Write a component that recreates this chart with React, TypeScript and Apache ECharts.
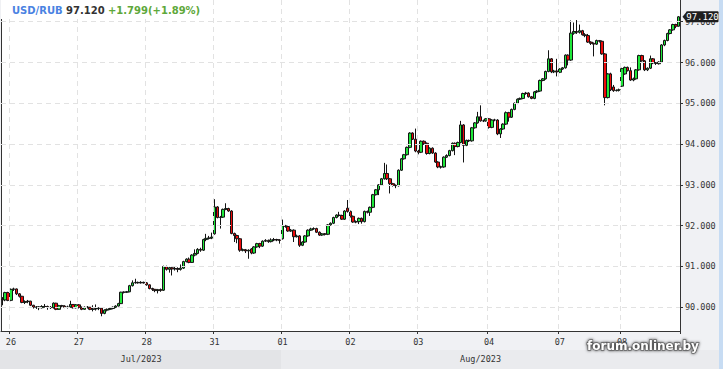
import React, { useEffect, useRef } from "react";
import * as echarts from "echarts";

// ---- data ----
const symbolName = "USD/RUB";
const changeText = "+1.799(+1.89%)";
const dayLabels = ["25", "26", "27", "28", "31", "01", "02", "03", "04", "07", "08"];
const monthLabels = ["Jul/2023", "Aug/2023"];
const monthFirstDay = [0, 5]; // index into dayLabels where each month begins
const yTicks = [90, 91, 92, 93, 94, 95, 96, 97];

// hourly candles, [open, close, low, high]
const d25 = [
  [90.2, 90.18, 90.05, 90.25],
  [90.18, 90.36, 90.15, 90.38],
  [90.36, 90.17, 90.15, 90.38],
];
const d26 = [
  [90.17, 90.44, 90.15, 90.46], [90.44, 90.45, 90.4, 90.48], [90.45, 90.33, 90.3, 90.46],
  [90.33, 90.27, 90.24, 90.35], [90.27, 90.12, 90.1, 90.28], [90.12, 90.14, 90.08, 90.17],
  [90.14, 90.15, 90.1, 90.18], [90.15, 90.05, 90.03, 90.16], [90.05, 90.0, 89.97, 90.06],
  [90.0, 90.01, 89.96, 90.03], [90.01, 89.99, 89.93, 90.03], [89.99, 90.02, 89.97, 90.05],
  [90.02, 90.02, 89.99, 90.08], [90.02, 90.0, 89.94, 90.04], [90.0, 89.99, 89.96, 90.03],
  [89.99, 90.1, 89.97, 90.12], [90.1, 89.95, 89.93, 90.11], [89.95, 90.04, 89.94, 90.06],
  [90.04, 90.03, 90.0, 90.06], [90.03, 90.0, 89.98, 90.05], [90.0, 90.01, 89.97, 90.04],
  [90.01, 90.07, 89.99, 90.16], [90.07, 89.99, 89.97, 90.08], [89.99, 90.06, 89.97, 90.08],
];
const d27 = [
  [90.06, 90.0, 89.97, 90.08], [90.0, 89.95, 89.93, 90.02], [89.95, 90.0, 89.94, 90.02],
  [90.0, 90.0, 89.97, 90.03], [90.0, 89.95, 89.93, 90.01], [89.95, 89.96, 89.9, 90.05],
  [89.96, 89.97, 89.92, 90.07], [89.97, 89.98, 89.93, 90.0], [89.98, 89.85, 89.78, 89.99],
  [89.85, 89.93, 89.83, 89.95], [89.93, 89.95, 89.9, 89.97], [89.95, 89.97, 89.93, 89.99],
  [89.97, 90.0, 89.95, 90.02], [90.0, 90.03, 89.98, 90.05], [90.03, 90.09, 90.02, 90.11],
  [90.09, 90.37, 90.08, 90.38], [90.37, 90.37, 90.34, 90.39], [90.37, 90.38, 90.35, 90.4],
  [90.38, 90.53, 90.37, 90.55], [90.53, 90.6, 90.51, 90.66], [90.6, 90.61, 90.58, 90.7],
  [90.61, 90.6, 90.58, 90.63], [90.6, 90.61, 90.58, 90.64], [90.61, 90.6, 90.58, 90.63],
];
const d28 = [
  [90.6, 90.55, 90.53, 90.62], [90.55, 90.46, 90.44, 90.56], [90.46, 90.44, 90.4, 90.48],
  [90.44, 90.41, 90.37, 90.45], [90.41, 90.43, 90.34, 90.45], [90.43, 90.42, 90.38, 90.46],
  [90.42, 91.0, 90.4, 91.02], [91.0, 90.93, 90.9, 91.02], [90.93, 90.97, 90.85, 90.99],
  [90.97, 90.94, 90.78, 90.99], [90.94, 90.95, 90.9, 91.0], [90.95, 90.93, 90.86, 90.98],
  [90.93, 90.96, 90.9, 91.05], [90.96, 91.12, 90.94, 91.14], [91.12, 91.18, 91.1, 91.2],
  [91.18, 91.1, 91.08, 91.22], [91.1, 91.28, 91.09, 91.3], [91.28, 91.32, 91.25, 91.42],
  [91.32, 91.42, 91.3, 91.45], [91.42, 91.4, 91.36, 91.46], [91.4, 91.66, 91.38, 91.68],
  [91.66, 91.69, 91.62, 91.8], [91.69, 91.7, 91.66, 91.75], [91.7, 91.72, 91.67, 91.83],
];
const d31 = [
  [91.8, 92.46, 91.78, 92.65], [92.46, 92.2, 92.18, 92.48], [92.2, 92.21, 91.93, 92.24],
  [92.21, 92.4, 92.19, 92.42], [92.4, 92.42, 92.38, 92.55], [92.42, 92.36, 92.34, 92.44],
  [92.36, 91.81, 91.79, 92.38], [91.81, 91.76, 91.6, 91.83], [91.76, 91.68, 91.57, 91.78],
  [91.68, 91.4, 91.36, 91.7], [91.4, 91.41, 91.37, 91.44], [91.41, 91.38, 91.33, 91.43],
  [91.38, 91.4, 91.19, 91.42], [91.43, 91.33, 91.3, 91.45], [91.33, 91.48, 91.31, 91.5],
  [91.48, 91.56, 91.46, 91.58], [91.56, 91.5, 91.45, 91.58], [91.5, 91.62, 91.48, 91.64],
  [91.62, 91.64, 91.6, 91.67], [91.64, 91.61, 91.58, 91.66], [91.61, 91.65, 91.59, 91.69],
  [91.65, 91.66, 91.62, 91.7], [91.66, 91.65, 91.62, 91.68], [91.65, 91.64, 91.56, 91.67],
];
const d01 = [
  [91.68, 92.0, 91.66, 92.15], [92.0, 91.98, 91.95, 92.02], [91.98, 91.87, 91.85, 92.0],
  [91.87, 91.89, 91.85, 91.92], [91.89, 91.73, 91.6, 91.91], [91.73, 91.75, 91.71, 91.78],
  [91.75, 91.52, 91.48, 91.77], [91.52, 91.6, 91.5, 91.62], [91.6, 91.75, 91.58, 91.77],
  [91.75, 91.89, 91.73, 91.91], [91.89, 91.92, 91.87, 91.95], [91.92, 91.93, 91.9, 91.96],
  [91.93, 91.84, 91.82, 91.95], [91.84, 91.77, 91.75, 91.86], [91.77, 91.8, 91.75, 91.82],
  [91.8, 91.79, 91.76, 91.82], [91.79, 92.02, 91.77, 92.04], [92.02, 92.06, 92.0, 92.08],
  [92.06, 92.2, 92.04, 92.22], [92.2, 92.26, 92.18, 92.28], [92.26, 92.25, 92.22, 92.34],
  [92.25, 92.16, 92.14, 92.27], [92.16, 92.36, 92.14, 92.38], [92.43, 92.35, 92.32, 92.63],
];
const d02 = [
  [92.35, 92.23, 92.2, 92.37], [92.23, 92.09, 92.07, 92.25], [92.09, 92.1, 92.06, 92.13],
  [92.1, 92.18, 92.04, 92.2], [92.18, 92.1, 92.05, 92.2], [92.1, 92.35, 92.08, 92.37],
  [92.35, 92.33, 92.3, 92.37], [92.33, 92.45, 92.24, 92.47], [92.45, 92.76, 92.43, 92.78],
  [92.76, 92.88, 92.74, 92.9], [92.88, 93.0, 92.75, 93.02], [93.0, 93.15, 92.98, 93.17],
  [93.15, 93.28, 93.13, 93.54], [93.28, 93.15, 93.12, 93.5], [93.15, 93.03, 92.79, 93.17],
  [93.03, 92.99, 92.96, 93.05], [92.99, 92.98, 92.92, 93.01], [92.98, 93.36, 92.96, 93.38],
  [93.36, 93.64, 93.34, 93.66], [93.64, 93.74, 93.62, 93.76], [93.74, 93.92, 93.72, 93.94],
  [93.92, 94.27, 93.9, 94.29], [94.27, 94.12, 94.1, 94.29], [94.12, 93.83, 93.8, 94.38],
];
const d03 = [
  [93.83, 93.8, 93.75, 93.86], [93.8, 94.07, 93.78, 94.09], [94.07, 94.02, 93.98, 94.09],
  [94.02, 93.77, 93.74, 94.04], [93.77, 93.9, 93.75, 93.92], [93.9, 93.78, 93.76, 93.92],
  [93.78, 93.56, 93.54, 93.8], [93.56, 93.44, 93.41, 93.58], [93.44, 93.44, 93.4, 93.47],
  [93.44, 93.68, 93.42, 93.7], [93.68, 93.72, 93.66, 93.75], [93.72, 93.84, 93.7, 93.86],
  [93.84, 94.02, 93.82, 94.04], [94.02, 93.94, 93.73, 94.04], [93.94, 94.04, 93.92, 94.06],
  [94.04, 94.47, 94.02, 94.57], [94.47, 93.97, 93.55, 94.49], [93.97, 94.09, 93.95, 94.11],
  [94.09, 94.08, 94.05, 94.11], [94.08, 94.4, 94.06, 94.42], [94.4, 94.52, 94.38, 94.54],
  [94.52, 94.67, 94.5, 94.79], [94.67, 94.57, 94.55, 94.95], [94.57, 94.57, 94.54, 94.6],
  [94.57, 94.62, 94.55, 94.64],
];
const d04 = [
  [94.62, 94.41, 94.38, 94.64], [94.41, 94.59, 94.39, 94.61], [94.59, 94.59, 94.56, 94.62],
  [94.59, 94.25, 94.22, 94.61], [94.25, 94.37, 94.15, 94.39], [94.37, 94.49, 94.35, 94.51],
  [94.49, 94.77, 94.47, 94.8], [94.77, 94.66, 94.55, 94.79], [94.66, 94.85, 94.64, 94.87],
  [94.85, 95.0, 94.83, 95.02], [95.0, 95.1, 94.98, 95.12], [95.1, 95.12, 95.08, 95.14],
  [95.12, 95.24, 95.1, 95.26], [95.24, 95.25, 95.21, 95.28], [95.25, 95.16, 95.14, 95.27],
  [95.16, 95.12, 95.1, 95.18], [95.12, 95.28, 95.1, 95.3], [95.28, 95.3, 95.25, 95.32],
  [95.3, 95.56, 95.28, 95.58], [95.56, 95.6, 95.54, 95.62], [95.6, 95.78, 95.58, 95.8],
  [95.78, 96.09, 95.76, 96.3], [96.09, 95.77, 95.74, 96.11], [95.77, 95.79, 95.74, 95.82],
  [95.79, 95.77, 95.66, 96.09],
];
const d07 = [
  [95.76, 95.84, 95.74, 95.86], [95.84, 95.87, 95.82, 95.89], [95.87, 96.18, 95.85, 96.2],
  [96.18, 96.06, 95.93, 96.2], [96.06, 96.72, 96.04, 97.03], [96.72, 96.76, 96.68, 96.98],
  [96.76, 96.74, 96.7, 97.04], [96.74, 96.78, 96.71, 96.93], [96.78, 96.68, 96.66, 96.8],
  [96.68, 96.66, 96.62, 96.72], [96.66, 96.5, 96.48, 96.7], [96.5, 96.47, 96.43, 96.52],
  [96.47, 96.45, 96.15, 96.49], [96.45, 96.54, 96.43, 96.56], [96.54, 96.52, 96.49, 96.55],
  [96.52, 96.21, 96.19, 96.54], [96.21, 95.14, 94.95, 96.23], [95.14, 95.72, 95.12, 95.74],
  [95.72, 95.33, 95.3, 95.75], [95.4, 95.31, 95.28, 95.45], [95.31, 95.32, 95.29, 95.34],
  [95.32, 95.33, 95.29, 95.36],
];
const d08 = [
  [95.42, 95.85, 95.4, 95.87], [95.72, 95.88, 95.7, 95.9], [95.88, 95.8, 95.78, 95.9],
  [95.8, 95.57, 95.55, 95.88], [95.57, 95.6, 95.54, 95.63], [95.6, 95.82, 95.58, 95.84],
  [95.82, 96.17, 95.8, 96.19], [96.17, 96.04, 96.02, 96.19], [96.04, 95.82, 95.79, 96.06],
  [95.82, 95.86, 95.79, 95.88], [95.86, 96.09, 95.84, 96.17], [96.09, 95.99, 95.96, 96.11],
  [95.99, 95.98, 95.94, 96.01], [95.97, 96.01, 95.95, 96.03], [96.01, 96.43, 96.0, 96.45],
  [96.43, 96.54, 96.4, 96.56], [96.54, 96.71, 96.52, 96.73], [96.71, 96.8, 96.69, 96.82],
  [96.8, 96.93, 96.78, 96.95], [96.93, 96.89, 96.84, 96.95], [96.89, 97.12, 96.88, 97.14],
];

const dayData = [d25, d26, d27, d28, d31, d01, d02, d03, d04, d07, d08];

// ---- derived structures ----
const candles: number[][] = [];
const categories: string[] = [];
const dayStartLabel = new Map<number, string>();
const dayStartIdx: number[] = [];
dayData.forEach((d, k) => {
  dayStartIdx.push(candles.length);
  if (k > 0) dayStartLabel.set(candles.length, dayLabels[k]);
  d.forEach((c, h) => {
    candles.push(c);
    categories.push(dayLabels[k] + ":" + h);
  });
});
const total = candles.length;
const monthRanges = monthFirstDay.map((fd, m) => {
  const s = m === 0 ? 0 : dayStartIdx[fd];
  const e = m + 1 < monthFirstDay.length ? dayStartIdx[monthFirstDay[m + 1]] : total;
  return [s, e];
});
const monthLabelIdx = new Map<number, string>();
monthRanges.forEach(([s, e], m) => monthLabelIdx.set(Math.floor((s + e) / 2), monthLabels[m]));
const lastClose = candles[total - 1][1];

const MONO = "'DejaVu Sans Mono', monospace";
const gridColor = "#e2e2e2";

export default function App() {
  const ref = useRef<HTMLDivElement>(null);
  useEffect(() => {
    const el = ref.current!;
    const chart = echarts.init(el, null, { renderer: "svg" });
    chart.setOption({
      animation: false,
      backgroundColor: "#f0f1f4",
      grid: { left: 1, right: 43, top: 0, bottom: 38, show: true, backgroundColor: "#ffffff", borderWidth: 0 },
      xAxis: [
        {
          type: "category",
          data: categories,
          boundaryGap: true,
          z: 10,
          axisLine: { show: true, lineStyle: { color: "#333", width: 1 } },
          axisTick: { show: true, length: 3, interval: (i: number) => dayStartLabel.has(i), lineStyle: { color: "#333" } },
          axisLabel: {
            interval: (i: number) => dayStartLabel.has(i),
            formatter: (_v: string, i: number) => dayStartLabel.get(i) || "",
            color: "#333",
            fontFamily: MONO,
            fontSize: 8.5,
            margin: 6,
          },
          splitLine: { show: true, interval: (i: number) => dayStartLabel.has(i), lineStyle: { color: gridColor, type: [5, 4] } },
        },
        {
          type: "category",
          data: categories,
          boundaryGap: true,
          position: "bottom",
          offset: 18,
          z: 10,
          axisLine: { show: false },
          axisTick: { show: false },
          splitLine: { show: false },
          axisLabel: {
            interval: (i: number) => monthLabelIdx.has(i),
            formatter: (_v: string, i: number) => monthLabelIdx.get(i) || "",
            color: "#333",
            fontFamily: MONO,
            fontSize: 8.5,
            margin: 5,
          },
        },
      ],
      yAxis: [
        {
          type: "value",
          position: "right",
          min: 89.419,
          max: 97.532,
          scale: true,
          z: 10,
          axisLine: { show: true, lineStyle: { color: "#333", width: 1 } },
          axisTick: { show: true, length: 3, customValues: yTicks, lineStyle: { color: "#333" } },
          axisLabel: {
            customValues: yTicks,
            formatter: (v: number) => v.toFixed(3),
            color: "#333",
            fontFamily: MONO,
            fontSize: 8.5,
            margin: 5,
          },
          splitLine: { show: true, lineStyle: { color: gridColor, type: [5, 4] } },
        },
        {
          type: "value",
          position: "left",
          min: 89.419,
          max: 97.532,
          axisLine: { show: true, onZero: false, lineStyle: { color: "#333", width: 1 } },
          axisTick: { show: false },
          axisLabel: { show: false },
          splitLine: { show: false },
        },
      ],
      series: [
        {
          type: "candlestick",
          xAxisIndex: 0,
          yAxisIndex: 0,
          data: candles,
          barWidth: 3,
          itemStyle: {
            color: "#1ee83a",
            color0: "#ee0a0a",
            borderColor: "#141414",
            borderColor0: "#141414",
            borderColorDoji: "#141414",
            borderWidth: 1,
          },
        },
      ],
    });

    const cx = (i: number) => chart.convertToPixel({ xAxisIndex: 0 }, i) as number;
    const w = cx(1) - cx(0);
    const augX = cx(monthRanges[1][0]) - w / 2;
    const yLast = chart.convertToPixel({ yAxisIndex: 0 }, lastClose) as number;
    const plotRight = cx(total - 1) + w / 2;

    chart.setOption({
      graphic: [
        { type: "rect", z: 1, shape: { x: 0, y: 350, width: augX, height: 19 }, style: { fill: "#e3e4e7" } },
        { type: "rect", z: 1, shape: { x: augX, y: 350, width: 719 - augX, height: 19 }, style: { fill: "#eaebee" } },
        { type: "rect", z: 1, shape: { x: 719, y: 0, width: 4, height: 369 }, style: { fill: "#c7dcf3" } },
        { type: "rect", z: 30, shape: { x: 1, y: 0, width: 200, height: 19 }, style: { fill: "#ffffff" } },
        {
          type: "text",
          z: 31,
          x: 12,
          y: 10,
          style: {
            text: `{a|${symbolName}} {b|${lastClose.toFixed(3)}} {c|${changeText}}`,
            verticalAlign: "middle",
            rich: {
              a: { fill: "#4a82e2", fontFamily: "'DejaVu Sans'", fontWeight: "bold", fontSize: 10 },
              b: { fill: "#333333", fontFamily: "'DejaVu Sans'", fontWeight: "bold", fontSize: 10 },
              c: { fill: "#5ea83a", fontFamily: "'DejaVu Sans'", fontWeight: "bold", fontSize: 10 },
            },
          },
        },
        {
          type: "polygon",
          z: 40,
          shape: { points: [[plotRight + 2.5, yLast], [plotRight + 7, yLast - 5.5], [plotRight + 7, yLast + 5.5]] },
          style: { fill: "#1e1e1e" },
        },
        {
          type: "rect",
          z: 40,
          shape: { x: plotRight + 6.5, y: yLast - 5.5, width: 32, height: 11, r: 1 },
          style: { fill: "#1e1e1e" },
        },
        {
          type: "text",
          z: 41,
          x: plotRight + 22.5,
          y: yLast,
          style: {
            text: lastClose.toFixed(3),
            fill: "#ffffff",
            fontFamily: MONO,
            fontSize: 9,
            align: "center",
            verticalAlign: "middle",
          },
        },
        {
          type: "text",
          z: 50,
          x: 587,
          y: 346,
          style: {
            text: "forum.onliner.by",
            fill: "#ffffff",
            fontFamily: "'DejaVu Sans'",
            fontWeight: "bold",
            fontSize: 12,
            verticalAlign: "middle",
            textShadowColor: "rgba(0,0,0,0.85)",
            textShadowBlur: 3,
            stroke: "rgba(70,70,70,0.7)",
            lineWidth: 1.5,
          },
        },
      ],
    });
    return () => chart.dispose();
  }, []);
  return (
    <div
      ref={ref}
      style={{ position: "fixed", left: 0, top: 0, width: 723, height: 369 }}
    />
  );
}
